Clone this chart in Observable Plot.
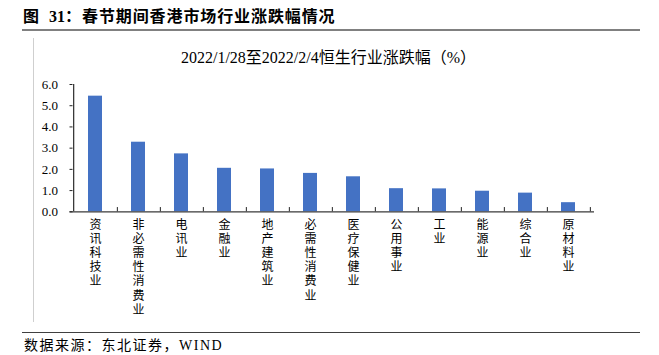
<!DOCTYPE html>
<html><head><meta charset="utf-8">
<script src="https://cdn.jsdelivr.net/npm/d3@7"></script>
<script src="https://cdn.jsdelivr.net/npm/@observablehq/plot@0.6"></script>
<style>
body{margin:0;background:#fff;}
#wrap{position:relative;width:659px;height:355px;overflow:hidden;font-family:"Liberation Serif","Noto Sans CJK SC",serif;color:#000;}
.abs{position:absolute;white-space:nowrap;}
#chart{position:absolute;left:0;top:0;}
</style></head><body>
<div id="wrap">
  <div class="abs" style="left:23px;top:9px;font-size:16px;line-height:16px;font-weight:bold;">图</div>
  <div class="abs" style="left:49px;top:9px;font-size:16px;line-height:16px;font-weight:bold;">31：</div>
  <div class="abs" style="left:82px;top:9px;font-size:16px;line-height:16px;font-weight:bold;letter-spacing:0.9px;">春节期间香港市场行业涨跌幅情况</div>
  <div class="abs" style="left:22px;top:29px;width:618px;height:1.5px;background:#808080;"></div>
  <div class="abs" style="left:33px;top:38px;width:1px;height:284px;background:#cfcfcf;"></div>
  <div id="chart"></div>
  <div class="abs" style="left:0;top:50px;width:657px;text-align:center;font-size:16px;line-height:16px;">2022/1/28至2022/2/4恒生行业涨跌幅（%）</div>
  <div class="abs" style="left:22px;top:331.5px;width:618px;height:1.3px;background:#404040;"></div>
  <div class="abs" style="left:24px;top:339px;font-size:14px;line-height:14px;letter-spacing:1.5px;">数据来源：东北证券，WIND</div>
</div>
<script>
const categories = ["资讯科技业","非必需性消费业","电讯业","金融业","地产建筑业","必需性消费业","医疗保健业","公用事业","工业","能源业","综合业","原材料业"];
const values = [5.45, 3.28, 2.73, 2.05, 2.02, 1.81, 1.65, 1.09, 1.08, 0.97, 0.88, 0.43];
const yTicks = [0, 1, 2, 3, 4, 5, 6];

const W = 659, H = 355, mL = 69.5, mR = 65, mT = 84, mB = 143.7;
const n = categories.length;
const step = (W - mL - mR) / n;
const data = categories.map((c, i) => ({category: c, value: values[i]}));

const chart = Plot.plot({
  width: W, height: H,
  marginLeft: mL, marginRight: mR, marginTop: mT, marginBottom: mB,
  style: {fontFamily: '"Liberation Serif","Noto Sans CJK SC",serif', fontSize: "12px", color: "#000", background: "transparent", overflow: "visible"},
  x: {domain: categories, paddingInner: 0.68, paddingOuter: 0.34, label: null},
  y: {domain: [0, 6], ticks: yTicks, label: null},
  marks: [
    Plot.barY(data, {x: "category", y: "value", fill: "#4472C4"}),
    Plot.ruleY([0], {stroke: "#3a3a3a", strokeWidth: 1.3}),
    Plot.ruleX([categories[0]], {dx: -step / 2, y1: 0, y2: 6, stroke: "#3a3a3a", strokeWidth: 1.3}),
    Plot.ruleX(categories, {dx: step / 2, y1: 0, y2: 0.2, stroke: "#222"}),
    Plot.ruleY(yTicks, {y: d => d, insetRight: W - mL - mR - 3, stroke: "#222"}),
    Plot.axisY({ticks: yTicks, tickSize: 0, tickPadding: 12, tickFormat: d => d.toFixed(1), fontSize: 13, label: null}),
    Plot.axisX({tickSize: 0, tickPadding: 7, tickFormat: d => [...d].join("\n"), lineHeight: 1.18, fontSize: 12, label: null})
  ]
});
document.getElementById("chart").appendChild(chart);
</script>
</body></html>
